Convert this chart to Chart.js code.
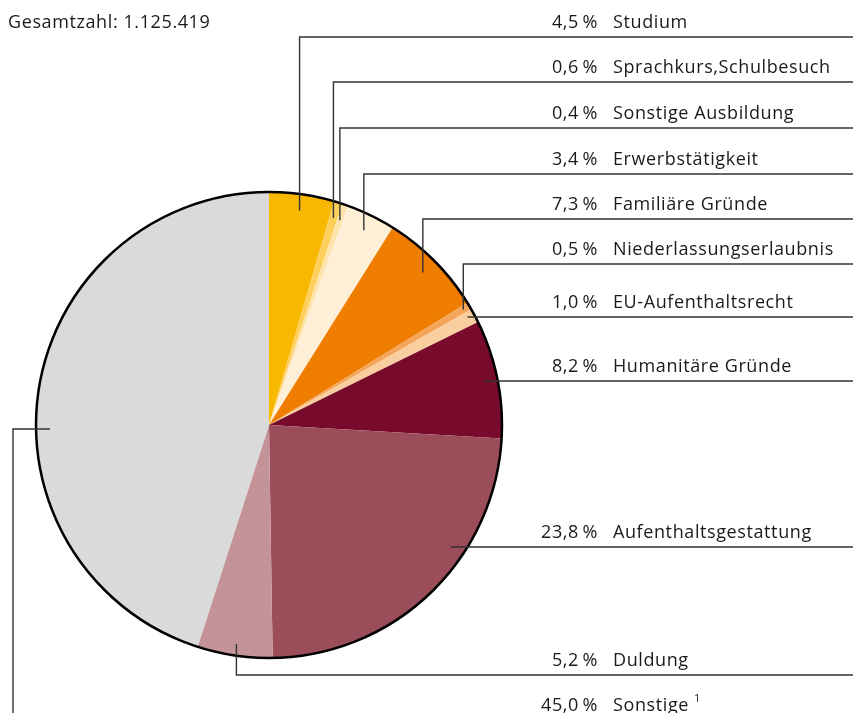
<!DOCTYPE html>
<html>
<head>
<meta charset="utf-8">
<script src="https://cdn.jsdelivr.net/npm/chart.js@4.4.1/dist/chart.umd.min.js"></script>
<style>
  html, body { margin: 0; padding: 0; background: #fff; }
  #wrap { width: 853px; height: 713px; }
</style>
</head>
<body>
<div id="wrap"><canvas id="pie" width="853" height="713"></canvas></div>
<script>
const categories = [
  "Studium", "Sprachkurs,Schulbesuch", "Sonstige Ausbildung", "Erwerbstätigkeit",
  "Familiäre Gründe", "Niederlassungserlaubnis", "EU-Aufenthaltsrecht",
  "Humanitäre Gründe", "Aufenthaltsgestattung", "Duldung", "Sonstige"
];
const shares = [4.5, 0.6, 0.4, 3.4, 7.3, 0.5, 1.0, 8.2, 23.8, 5.2, 45.0];
const sliceColors = [
  "#f8b800", "#ffcf5c", "#ffe3ad", "#ffefd6", "#ef7d00", "#f5a55a",
  "#f9cfa0", "#780a2b", "#9b4e5a", "#c49397", "#dadada"
];
const totalText = "Gesamtzahl: 1.125.419";

// label rows: y of the leader line, text baseline and how the leader is drawn
const labelRows = [
  { y: 37,  ty: 28,  kind: "up",   depth: 0.93 },
  { y: 82,  ty: 73,  kind: "up",   depth: 0.93 },
  { y: 128, ty: 119, kind: "up",   depth: 0.93 },
  { y: 174, ty: 165, kind: "up",   depth: 0.93 },
  { y: 219, ty: 210, kind: "up",   depth: 0.93 },
  { y: 264, ty: 255, kind: "up",   depth: 0.97 },
  { y: 317, ty: 308, kind: "h",    depth: 0.97 },
  { y: 381, ty: 372, kind: "h",    depth: 0.94 },
  { y: 547, ty: 538, kind: "h",    depth: 0.94 },
  { y: 675, ty: 666, kind: "down", depth: 0.95 },
  { y: 713, ty: 711, kind: "left", depth: 0.94, hy: 429 }
];

const FONT = '18px "Open Sans", sans-serif';
const INK = "#1a1a1a";
const LINE = "#333";

function fmt(v) {
  return v.toFixed(1).replace(".", ",") + "\u2009%";
}

const leaderPlugin = {
  id: "leaders",
  afterDatasetsDraw(chart) {
    const ctx = chart.ctx;
    const arcs = chart.getDatasetMeta(0).data;
    const cx = arcs[0].x, cy = arcs[0].y, r = arcs[0].outerRadius;
    const W = chart.width;

    ctx.save();
    // outer ring
    ctx.beginPath();
    ctx.arc(cx, cy, r, 0, Math.PI * 2);
    ctx.lineWidth = 2.5;
    ctx.strokeStyle = "#000";
    ctx.stroke();

    ctx.lineWidth = 1.4;
    ctx.strokeStyle = LINE;
    arcs.forEach((arc, i) => {
      const row = labelRows[i];
      const mid = (arc.startAngle + arc.endAngle) / 2;
      const rr = r * row.depth;
      ctx.beginPath();
      if (row.kind === "up" || row.kind === "down") {
        const px = cx + Math.cos(mid) * rr;
        const py = cy + Math.sin(mid) * rr;
        ctx.moveTo(px, py);
        ctx.lineTo(px, row.y);
        ctx.lineTo(W, row.y);
      } else if (row.kind === "h") {
        const dy = row.y - cy;
        const px = cx + Math.sqrt(Math.max(rr * rr - dy * dy, 0));
        ctx.moveTo(px, row.y);
        ctx.lineTo(W, row.y);
      } else {
        const dy = row.hy - cy;
        const px = cx - Math.sqrt(Math.max(rr * rr - dy * dy, 0));
        ctx.moveTo(px, row.hy);
        ctx.lineTo(13, row.hy);
        ctx.lineTo(13, row.y);
      }
      ctx.stroke();
    });

    // texts
    ctx.fillStyle = INK;
    ctx.font = FONT;
    ctx.letterSpacing = "0.6px";
    ctx.textBaseline = "alphabetic";
    categories.forEach((name, i) => {
      const ty = labelRows[i].ty;
      ctx.textAlign = "right";
      ctx.fillText(fmt(shares[i]), 598, ty);
      ctx.textAlign = "left";
      ctx.fillText(name, 613, ty);
      if (i === categories.length - 1) {
        const w = ctx.measureText(name).width;
        ctx.font = '11px "Open Sans", sans-serif';
        ctx.fillText("1", 613 + w + 5, ty - 9);
        ctx.font = FONT;
      }
    });
    ctx.textAlign = "left";
    ctx.fillText(totalText, 8, 28);
    ctx.restore();
  }
};

new Chart(document.getElementById("pie").getContext("2d"), {
  type: "pie",
  data: {
    labels: categories,
    datasets: [{
      data: shares,
      backgroundColor: sliceColors,
      borderWidth: 0
    }]
  },
  options: {
    responsive: false,
    animation: false,
    layout: { padding: { left: 36, right: 351, top: 192, bottom: 55 } },
    plugins: {
      legend: { display: false },
      tooltip: { enabled: false }
    }
  },
  plugins: [leaderPlugin]
});
</script>
</body>
</html>
